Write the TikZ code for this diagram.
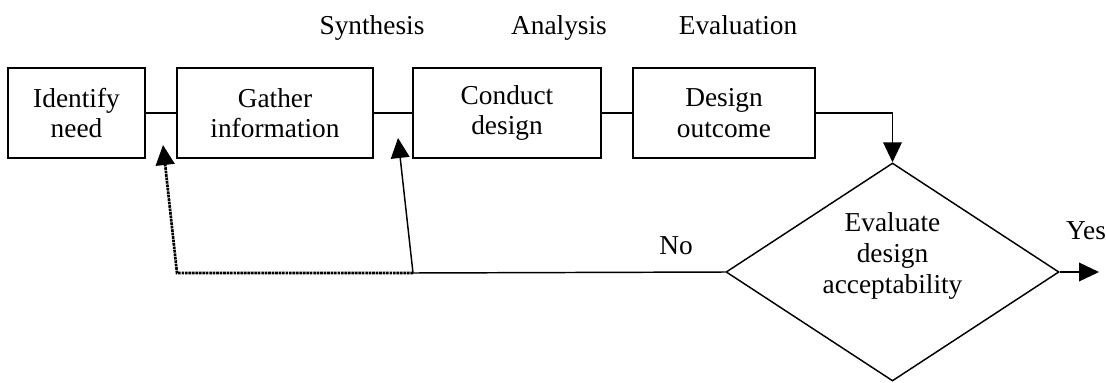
\documentclass[tikz,border=0pt]{standalone}
\usepackage{fontspec}
\setmainfont{Liberation Serif}
\usetikzlibrary{shapes.geometric,arrows.meta}
\begin{document}
\begin{tikzpicture}[x=0.75pt,y=-0.75pt,
  every node/.style={font=\fontsize{20.5}{23}\selectfont},
  stepbox/.style={draw,line width=1.1pt,align=center,inner sep=0pt,minimum height=67.5pt},
  decbox/.style={draw,diamond,line width=1.1pt,inner sep=0pt,minimum width=249.75pt,minimum height=163.5pt},
  conn/.style={line width=1.1pt},
  arr/.style={conn,-{Triangle[length=15pt,width=14pt]}},
  dotconn/.style={line width=2pt,dash pattern=on 2pt off 0.6pt,-{Triangle[length=15pt,width=14pt]}},
  lbl/.style={inner sep=0pt,anchor=base}]
\useasboundingbox (0,0) rectangle (1106,382);
\node[stepbox,minimum width=102.75pt] (idn) at (76.5,113) {Identify\\need};
\node[stepbox,minimum width=147pt] (gath) at (275,113) {Gather\\information};
\node[stepbox,minimum width=141pt] (cond) at (507,113) {Conduct\\design};
\node[stepbox,minimum width=136.5pt] (outc) at (724,113) {Design\\outcome};
\node[decbox] (eval) at (892.5,272) {};
\node[align=center,inner sep=0pt] (evaltxt) at (892.5,256) {Evaluate\\design\\acceptability};
\node[lbl] (syn) at (372,34) {Synthesis};
\node[lbl] (ana) at (559,34) {Analysis};
\node[lbl] (evl) at (738,34) {Evaluation};
\node[lbl] (no) at (676,254) {No};
\node[lbl] (yes) at (1086,239) {Yes};
\coordinate (j) at (413,273);
\coordinate (t1) at (398,138);
\coordinate (c1) at (177,273);
\coordinate (t2) at (163,145);
\coordinate (yesend) at (1099,272);
\draw[conn] (idn.east) -- (gath.west);
\draw[conn] (gath.east) -- (cond.west);
\draw[conn] (cond.east) -- (outc.west);
\draw[arr] (outc.east) -| (eval.north);
\draw[arr] (eval.east) -- (yesend);
\draw[conn] (eval.west) -- (j);
\draw[arr] (j) -- (t1);
\draw[dotconn] (j) -- (c1) -- (t2);
\end{tikzpicture}
\end{document}
